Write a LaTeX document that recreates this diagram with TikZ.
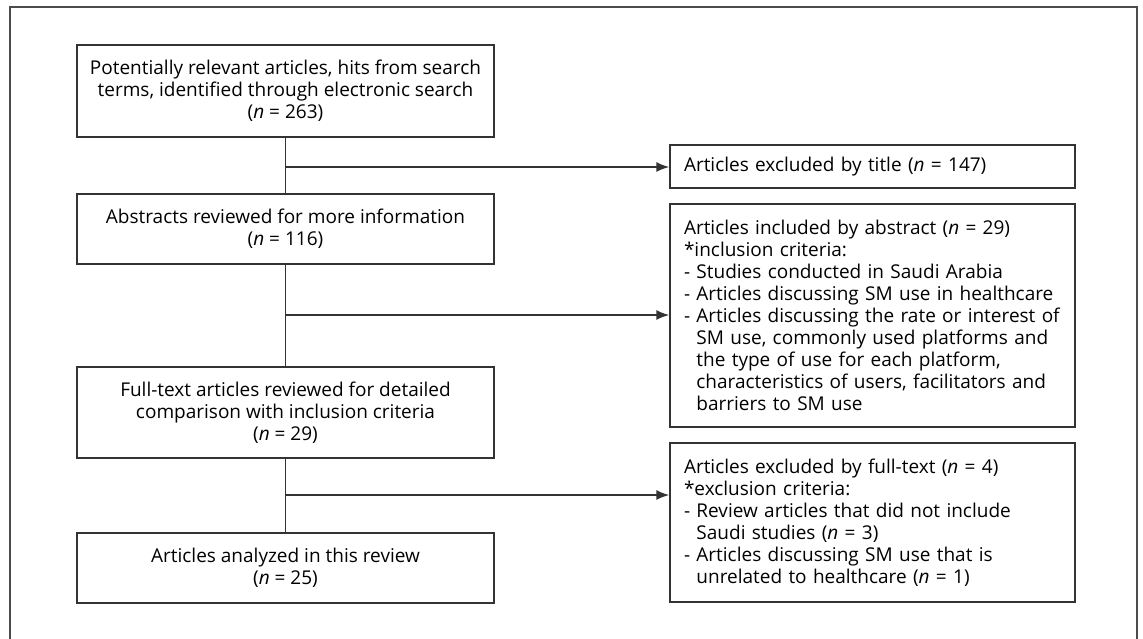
\documentclass[tikz,border=0pt]{standalone}
\usepackage{fontspec}
\setmainfont{Open Sans}
\usetikzlibrary{arrows.meta}
\newcommand{\nn}{\textit{n}}
\newcommand{\ind}{\phantom{-}\ }
\tikzset{
  x=1pt,y=-1pt,
  line/.style={draw=black!80, line width=1.5pt},
  box/.style={line, inner ysep=0pt, font=\fontsize{19}{22}\selectfont},
  lbox/.style={box, inner xsep=0pt, minimum width=417pt, align=center},
  rbox/.style={box, inner xsep=14pt, text width=377pt, align=left},
  arr/.style={line, -{Latex[length=13pt,width=10pt]}},
}
\begin{document}
\begin{tikzpicture}
\useasboundingbox (0,0) rectangle (1143,638);
\draw[draw=black!70, line width=1.3pt] (10,660) -- (10,7) -- (1137,7) -- (1137,660);

\node[lbox, minimum height=92pt] (b1) at (285.5,91) {Potentially relevant articles, hits from search\\terms, identified through electronic search\\(\nn{} = 263)};
\node[lbox, minimum height=70pt] (b2) at (285.5,229) {Abstracts reviewed for more information\\(\nn{} = 116)};
\node[lbox, minimum height=91pt] (b3) at (285.5,412.5) {Full-text articles reviewed for detailed\\comparison with inclusion criteria\\(\nn{} = 29)};
\node[lbox, minimum height=70pt] (b4) at (285.5,568) {Articles analyzed in this review\\(\nn{} = 25)};

\node[rbox, minimum height=43pt] (r1) at (872.5,166.5) {Articles excluded by title (\nn{} = 147)};
\node[rbox, minimum height=223pt] (r2) at (872.5,315.5) {Articles included by abstract (\nn{} = 29)\\{*}inclusion criteria:\\- Studies conducted in Saudi Arabia\\- Articles discussing SM use in healthcare\\- Articles discussing the rate or interest of\\\ind SM use, commonly used platforms and\\\ind the type of use for each platform,\\\ind characteristics of users, facilitators and\\\ind barriers to SM use};
\node[rbox, minimum height=159pt] (r3) at (872.5,522.5) {Articles excluded by full-text (\nn{} = 4)\\{*}exclusion criteria:\\- Review articles that did not include\\\ind Saudi studies (\nn{} = 3)\\- Articles discussing SM use that is\\\ind unrelated to healthcare (\nn{} = 1)};

\draw[line] (b1) -- (b2);
\draw[line] (b2) -- (b3);
\draw[line] (b3) -- (b4);
\coordinate (j1) at (285.5,167);
\coordinate (j2) at (285.5,315);
\coordinate (j3) at (285.5,495);
\draw[arr] (j1) -- (j1 -| r1.west);
\draw[arr] (j2) -- (j2 -| r2.west);
\draw[arr] (j3) -- (j3 -| r3.west);
\end{tikzpicture}
\end{document}
